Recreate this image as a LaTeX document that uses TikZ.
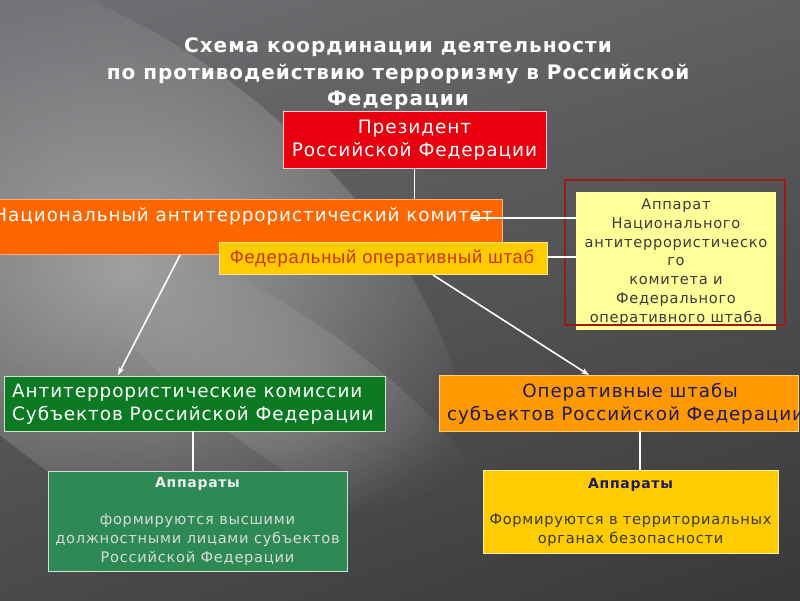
\documentclass[tikz,border=0pt]{standalone}
\usepackage{fontspec}
\setmainfont{DejaVu Sans}[LetterSpace=5]
\newfontfamily\arialf{Liberation Sans}[LetterSpace=4]
\usetikzlibrary{fadings,arrows.meta,shadings}
\definecolor{presred}{HTML}{E8000E}
\definecolor{nakorange}{HTML}{FF6600}
\definecolor{foshyellow}{HTML}{FFCC00}
\definecolor{foshtext}{HTML}{CC3300}
\definecolor{framered}{HTML}{A01818}
\definecolor{appyellow}{HTML}{FFFF99}
\definecolor{akgreen}{HTML}{0B7A22}
\definecolor{gappgreen}{HTML}{2E8A55}
\definecolor{oshorange}{HTML}{FF9900}
\definecolor{navy}{HTML}{1F1A66}
\definecolor{apptext}{HTML}{3A3A3A}
\definecolor{bgUL}{RGB}{112,112,116}
\definecolor{bgUR}{RGB}{96,96,98}
\definecolor{bgLL}{RGB}{74,74,76}
\definecolor{bgLR}{RGB}{56,56,58}
\tikzfading[name=softfade, inner color=transparent!0, outer color=transparent!100]
\begin{document}
\begin{tikzpicture}[x=1pt,y=-1pt,
  box/.style={inner sep=0pt, line width=0.9pt},
  txt/.style={inner sep=0pt, align=center},
  conn/.style={draw=white, line width=1.6pt},
  arr/.style={conn, -{Stealth[length=8pt,width=6pt]}}]
\clip (0,0) rectangle (800,600);
% background
\shade[upper left=bgUL, upper right=bgUR, lower left=bgLL, lower right=bgLR]
  (0,0) rectangle (800,600);
\fill[white, opacity=0.42, path fading=softfade, rotate around={-40:(130,270)}]
  (130,270) ellipse (400 and 210);
\fill[white, opacity=0.18, path fading=softfade, rotate around={-35:(290,390)}]
  (290,390) ellipse (240 and 70);
% title
\node[txt, text=white, font=\bfseries\fontsize{20}{26.5}\selectfont] (title) at (398,74)
  {Схема координации деятельности\\по противодействию терроризму в Российской\\Федерации};
% president
\node[box, draw=white!80!presred, fill=presred, minimum width=263, minimum height=57] (pres) at (414.5,139.5) {};
\node[txt, text=white, font=\fontsize{18.5}{23}\selectfont] (presT) at (414.5,140) {Президент\\Российской Федерации};
% NAK
\node[box, draw=nakorange!55!white, fill=nakorange, minimum width=512, minimum height=55] (nak) at (246,226.5) {};
\node[txt, text=white, font=\fontsize{18.4}{20}\selectfont, anchor=east] (nakT) at (493,216) {Национальный антитеррористический комитет};
% FOSh
\node[box, draw=foshyellow!50!white, fill=foshyellow, minimum width=328, minimum height=32] (fosh) at (383,258) {};
\node[txt, text=foshtext, font=\arialf\fontsize{18.4}{18}\selectfont] (foshT) at (382,259) {Федеральный оперативный штаб};
% apparatus of NAK
\node[box, fill=appyellow, minimum width=200, minimum height=138] (app) at (676,261) {};
\node[draw=framered, line width=1.2pt, inner sep=0pt, minimum width=220, minimum height=145] (frame) at (675,252.5) {};
\node[txt, text=apptext, font=\fontsize{14.6}{18.8}\selectfont] (appT) at (676,262)
  {Аппарат\\Национального\\антитеррористическо\\го\\комитета и\\Федерального\\оперативного штаба};
% connectors top
\coordinate (nakR) at (470,218);
\draw[conn] (pres.south) -- (pres.south |- nak.north);
\draw[conn] (nakR) -- (nakR -| app.west);
\draw[conn] (fosh.east |- 0,257) -- (app.west |- 0,257);
% AK
\node[box, draw=white!80!akgreen, fill=akgreen, minimum width=381, minimum height=55] (ak) at (194.5,403.5) {};
\node[txt, text=white, font=\fontsize{18.4}{23}\selectfont, align=left, anchor=west] (akT) at (12,404) {Антитеррористические комиссии\\Субъектов Российской Федерации};
% OSh
\node[box, draw=oshorange!50!white, fill=oshorange, minimum width=359, minimum height=56] (osh) at (618.5,403) {};
\node[txt, text=navy, font=\fontsize{18.3}{23}\selectfont] (oshT1) at (630,392) {Оперативные штабы};
\node[txt, text=navy, font=\fontsize{18.3}{23}\selectfont, anchor=west] (oshT2) at (447,415) {субъектов Российской Федерации};
% arrows
\coordinate (a1s) at (180,255);
\coordinate (a2s) at (433,275);
\draw[arr] (a1s) -- (118,375);
\draw[arr] (a2s) -- (589,375);
% green apparatus
\node[box, draw=white!75!gappgreen, fill=gappgreen, minimum width=299, minimum height=100] (gapp) at (197.5,521) {};
\node[txt, text=white!92!black, font=\bfseries\fontsize{14}{16}\selectfont] (gappH) at (197.5,484) {Аппараты};
\node[txt, text=white!85!black, font=\fontsize{14.6}{19}\selectfont] (gappT) at (197.5,539.5)
  {формируются высшими\\должностными лицами субъектов\\Российской Федерации};
% yellow apparatus
\node[box, draw=white!70!foshyellow, fill=foshyellow, minimum width=295, minimum height=83] (yapp) at (630.5,511.5) {};
\node[txt, text=navy, font=\bfseries\fontsize{14}{16}\selectfont] (yappH) at (630.5,485) {Аппараты};
\node[txt, text=apptext, font=\fontsize{14.6}{18.5}\selectfont] (yappT) at (630.5,530)
  {Формируются в территориальных\\органах безопасности};
\draw[conn] (ak.south -| 193,0) -- (gapp.north -| 193,0);
\draw[conn] (osh.south -| 640,0) -- (yapp.north -| 640,0);
\end{tikzpicture}
\end{document}
